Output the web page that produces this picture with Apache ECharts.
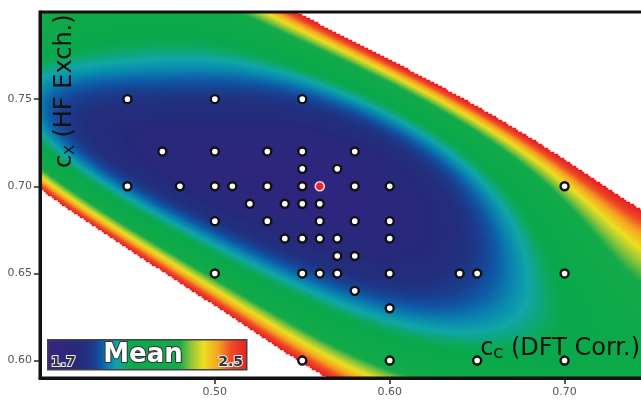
<!DOCTYPE html>
<html><head><meta charset="utf-8">
<script src="https://cdn.jsdelivr.net/npm/echarts@6/dist/echarts.min.js"></script>
<style>html,body{margin:0;padding:0;background:#fff}#c{width:641px;height:400px}</style>
</head><body><div id="c"></div>
<script>
// ---- axis ticks ----
const xTicks = [0.50, 0.60, 0.70];
const yTicks = [0.60, 0.65, 0.70, 0.75];
const xRange = [0.40, 0.75];
const yRange = [0.59, 0.80];

// ---- design points (cC, cX) ----
const pointsX = [0.45,0.45, 0.47, 0.48, 0.50,0.50,0.50,0.50,0.50, 0.51, 0.52, 0.53,0.53,0.53, 0.54,0.54,
  0.55,0.55,0.55,0.55,0.55,0.55,0.55,0.55, 0.56,0.56,0.56,0.56, 0.57,0.57,0.57,0.57,
  0.58,0.58,0.58,0.58,0.58, 0.60,0.60,0.60,0.60,0.60,0.60, 0.64, 0.65,0.65, 0.70,0.70,0.70];
const pointsY = [0.75,0.70, 0.72, 0.70, 0.75,0.72,0.70,0.68,0.65, 0.70, 0.69, 0.72,0.70,0.68, 0.69,0.67,
  0.75,0.72,0.71,0.70,0.69,0.67,0.65,0.60, 0.69,0.68,0.67,0.65, 0.71,0.67,0.66,0.65,
  0.72,0.70,0.68,0.66,0.64, 0.70,0.68,0.67,0.65,0.63,0.60, 0.65, 0.65,0.60, 0.70,0.65,0.60];
const bestX = [0.56];
const bestY = [0.70];

// ---- Mean values at sample locations ----
const sampleX = [
  0.40172,0.40972,0.49150,0.52581,0.56756,0.54297,0.60588,0.66307,0.68994,0.74370,
  0.40172,0.51609,0.59272,0.52981,0.60302,0.66021,0.73970,
  0.40172,0.52981,0.60588,0.52009,0.60016,0.65734,0.69908,
  0.40172,0.56413,0.52467,0.40172,0.56298,0.58529,0.64190,0.67850,0.69166,0.65163,0.59959,
  0.40172,0.40172,0.50580,0.56298,0.58529,0.62017,0.63275,0.67050,0.68308,0.66307,0.63447,0.59959,0.57442,0.52467,0.50065,
  0.40172,0.59959,0.52467,0.56298,0.45033,0.58472,0.63447,
  0.45033,0.54983,0.50065,0.64933,0.47034,0.50065,
  0.50065,0.52009,0.60588,0.57728,0.61731,
  0.55898,0.57156,0.54297];
const sampleY = [
  0.69788,0.69214,0.63477,0.61469,0.59002,0.80000,0.76959,0.73804,0.72083,0.67952,
  0.70820,0.63477,0.59002,0.80000,0.76385,0.73230,0.67378,
  0.71222,0.63477,0.59002,0.80000,0.75927,0.72771,0.70017,
  0.71910,0.63477,0.65083,0.76672,0.76385,0.74951,0.72083,0.66345,0.63477,0.61182,0.60895,
  0.75697,0.72083,0.77820,0.75525,0.74263,0.72656,0.72083,0.66345,0.63763,0.62444,0.62042,0.61469,0.63477,0.65657,0.65026,
  0.73517,0.62616,0.66632,0.74951,0.70075,0.63477,0.62903,
  0.75009,0.75009,0.68066,0.65026,0.72083,0.75009,
  0.72000,0.69214,0.67493,0.72083,0.65198,
  0.69673,0.68927,0.70648];
const sampleMean = [
  2.5,2.5,2.5,2.5,2.5,2.5,2.5,2.5,2.5,2.5,
  2.324,2.324,2.324,2.324,2.324,2.324,2.324,
  2.228,2.228,2.228,2.228,2.228,2.228,2.244,
  2.036,2.036,2.036,2.036,2.036,2.036,2.036,2.036,2.036,2.036,2.036,
  1.98,1.98,1.98,1.98,1.98,1.98,1.98,1.98,1.98,1.98,1.98,1.98,1.98,1.98,2.004,
  1.916,1.91,1.91,1.916,1.9,1.91,1.9,
  1.876,1.876,1.868,1.86,1.836,1.836,
  1.80,1.78,1.79,1.78,1.82,
  1.72,1.71,1.74];
// locations read as plain green (Mean between the green edges)
const greenX = [0.59959,0.64933,0.69908,0.69908,0.74370,0.74370,0.40172,0.43431,0.46291,0.54869,0.54011,
  0.72025,0.67450,0.61731,0.66307,0.72025,0.63447,0.72025];
const greenY = [0.60034,0.60034,0.60034,0.65026,0.59002,0.63477,0.80,0.80,0.80,0.63477,0.64050,
  0.66345,0.69214,0.74377,0.60034,0.59002,0.59002,0.63477];
// locations read as lying outside the coloured field (Mean above 2.5)
const outsideX = [0.40,0.40,0.43431,0.43431,0.46863,0.40,0.50294,
  0.60588,0.65163,0.69737,0.74370,0.74370,0.74370,0.72025,0.67450,0.63447];
const outsideY = [0.63477,0.59,0.63477,0.59,0.59,0.66345,0.59,
  0.80,0.80,0.80,0.80,0.76099,0.71509,0.74951,0.77246,0.78394];

// ---- colour scale ----
const meanMin = 1.7, meanMax = 2.5;
const stopPos = [0.00,0.06,0.14,0.20,0.24,0.27,0.31,0.35,0.40,0.43,0.66,0.72,0.78,0.85,0.92,1.00];
const stopCol = ['#3b2482','#30267f','#272a7b','#22307f','#1a4090','#1058a5','#0a85b0','#10a6a8','#0ea85e','#0aa84c','#14aa4a','#90c63a','#ecdf20','#f5a623','#ef4a25','#e41f26'];

function hex(c){return [parseInt(c.substr(1,2),16),parseInt(c.substr(3,2),16),parseInt(c.substr(5,2),16)];}
function colAt(f){
  for(let k=0;k<stopPos.length-1;k++){
    if(f<=stopPos[k+1]){const t=(f-stopPos[k])/(stopPos[k+1]-stopPos[k]);const a=hex(stopCol[k]),b=hex(stopCol[k+1]);
      return 'rgb('+a.map((v,i)=>Math.round(v+(b[i]-v)*t)).join(',')+')';}
  }
  return stopCol[stopCol.length-1];
}
const rampColors=[];for(let k=0;k<=100;k++)rampColors.push(colAt(k/100));

// ---- least-squares polynomial surface fitted to the readings ----
const DEG=5;
function basis(x,y){const u=(x-0.56)/0.1,v=(y-0.70)/0.05;const b=[];for(let d=0;d<=DEG;d++)for(let i=0;i<=d;i++)b.push(Math.pow(u,d-i)*Math.pow(v,i));return b;}
function solveFit(pts){
  const n=basis(0.5,0.7).length;const A=[],r=[];
  for(let i=0;i<n;i++){A.push(new Array(n).fill(0));r.push(0);}
  for(const p of pts){const b=basis(p[0],p[1]);
    for(let i=0;i<n;i++){r[i]+=p[3]*b[i]*p[2];for(let j=0;j<n;j++)A[i][j]+=p[3]*b[i]*b[j];}}
  for(let i=0;i<n;i++)A[i][i]+=1e-4;
  for(let i=0;i<n;i++){let q=i;for(let k=i+1;k<n;k++)if(Math.abs(A[k][i])>Math.abs(A[q][i]))q=k;
    [A[i],A[q]]=[A[q],A[i]];[r[i],r[q]]=[r[q],r[i]];
    for(let k=i+1;k<n;k++){const f=A[k][i]/A[i][i];for(let j=i;j<n;j++)A[k][j]-=f*A[i][j];r[k]-=f*r[i];}}
  const c=new Array(n).fill(0);
  for(let i=n-1;i>=0;i--){let s=r[i];for(let j=i+1;j<n;j++)s-=A[i][j]*c[j];c[i]=s/A[i][i];}
  return c;
}
let coef;
function meanAt(x,y){const b=basis(x,y);let s=0;for(let i=0;i<b.length;i++)s+=b[i]*coef[i];return s;}
(function(){
  const pts=sampleX.map((x,i)=>[x,sampleY[i],sampleMean[i],1]);
  const extra=new Map();
  for(let it=0;it<12;it++){
    coef=solveFit(pts.concat([...extra.values()]));
    let changed=false;
    outsideX.forEach((x,k)=>{const key='o'+k;if(!extra.has(key)&&meanAt(x,outsideY[k])<2.6){extra.set(key,[x,outsideY[k],2.7,1]);changed=true;}});
    greenX.forEach((x,k)=>{const key='g'+k;const m=meanAt(x,greenY[k]);
      if(!extra.has(key)&&m<2.05){extra.set(key,[x,greenY[k],2.09,1]);changed=true;}
      else if(!extra.has(key)&&m>2.21){extra.set(key,[x,greenY[k],2.17,1]);changed=true;}});
    if(!changed)break;
  }
})();

const NX=306, NY=183;
const cellData=[];const xCats=[],yCats=[];
for(let i=0;i<NX;i++)xCats.push(i);
for(let j=0;j<NY;j++)yCats.push(j);
for(let i=0;i<NX;i++){const x=xRange[0]+(i+0.5)*(xRange[1]-xRange[0])/NX;
  for(let j=0;j<NY;j++){const y=yRange[0]+(j+0.5)*(yRange[1]-yRange[0])/NY;
    const m=meanAt(x,y);if(m<=meanMax)cellData.push([i,j,Math.max(meanMin,m)]);}}

const GRID={left:40,top:12,width:612,height:366,outerBoundsMode:'none',containLabel:false};
const FONT='DejaVu Sans';
const chart=echarts.init(document.getElementById('c'),null,{renderer:'canvas'});
chart.setOption({
  animation:false,
  backgroundColor:'#fff',
  grid:[Object.assign({show:true,borderColor:'#111',borderWidth:3,backgroundColor:'transparent',z:20},GRID),
        Object.assign({show:false},GRID)],
  xAxis:[
    {type:'value',gridIndex:0,min:xRange[0],max:xRange[1],splitLine:{show:false},z:20,
     axisLine:{show:true,lineStyle:{color:'#111',width:3}},
     axisTick:{show:true,length:6,customValues:xTicks,lineStyle:{color:'#222',width:1.5}},
     axisLabel:{customValues:xTicks,formatter:v=>v.toFixed(2),color:'#555',fontSize:11,fontFamily:FONT,margin:9}},
    {type:'category',gridIndex:1,data:xCats,show:false}
  ],
  yAxis:[
    {type:'value',gridIndex:0,min:yRange[0],max:yRange[1],splitLine:{show:false},z:20,
     axisLine:{show:true,lineStyle:{color:'#111',width:3}},
     axisTick:{show:true,length:6,customValues:yTicks,lineStyle:{color:'#222',width:1.5}},
     axisLabel:{customValues:yTicks,formatter:v=>v.toFixed(2),color:'#555',fontSize:11,fontFamily:FONT,margin:8}},
    {type:'category',gridIndex:1,data:yCats,show:false}
  ],
  visualMap:{show:false,type:'continuous',min:meanMin,max:meanMax,seriesIndex:0,dimension:2,
    inRange:{color:rampColors},outOfRange:{color:'rgba(255,255,255,0)'}},
  series:[
    {type:'heatmap',xAxisIndex:1,yAxisIndex:1,data:cellData,progressive:0,silent:true,emphasis:{disabled:true},z:1},
    {type:'scatter',xAxisIndex:0,yAxisIndex:0,data:pointsX.map((x,i)=>[x,pointsY[i]]),symbolSize:8,silent:true,z:5,
     itemStyle:{color:'#fff',borderColor:'#111',borderWidth:2.4,opacity:1}},
    {type:'scatter',xAxisIndex:0,yAxisIndex:0,data:bestX.map((x,i)=>[x,bestY[i]]),symbolSize:9,silent:true,z:6,
     itemStyle:{color:'#e8252a',borderColor:'#f3d6d6',borderWidth:1.6,opacity:1}}
  ],
  graphic:[
    {type:'rect',left:47,top:339,z:30,shape:{width:199,height:30},
     style:{fill:new echarts.graphic.LinearGradient(0,0,1,0,stopPos.map((p,k)=>({offset:p,color:stopCol[k]}))),stroke:'#444',lineWidth:1.5}},
    {type:'text',x:143,y:355,z:31,style:{text:'Mean',font:'bold 26px "DejaVu Sans"',fill:'#fff',stroke:'#333',lineWidth:2,align:'center',verticalAlign:'middle'}},
    {type:'text',x:51,y:362,z:31,style:{text:'1.7',font:'bold 14px "DejaVu Sans"',fill:'#333',stroke:'#eee',lineWidth:2,align:'left',verticalAlign:'middle'}},
    {type:'text',x:243,y:362,z:31,style:{text:'2.5',font:'bold 14px "DejaVu Sans"',fill:'#333',stroke:'#eee',lineWidth:2,align:'right',verticalAlign:'middle'}},
    {type:'text',x:640,y:361,z:31,style:{text:'{a|c}{s|C}{a| (DFT Corr.)}',align:'right',verticalAlign:'bottom',
      rich:{a:{font:'24px "DejaVu Sans"',fill:'#111',verticalAlign:'bottom'},s:{font:'14px "DejaVu Sans"',fill:'#111',verticalAlign:'bottom'}}}},
    {type:'text',x:77,y:168,rotation:Math.PI/2,z:31,style:{text:'{a|c}{s|X}{a| (HF Exch.)}',align:'left',verticalAlign:'bottom',
      rich:{a:{font:'24px "DejaVu Sans"',fill:'#111',verticalAlign:'bottom'},s:{font:'14px "DejaVu Sans"',fill:'#111',verticalAlign:'bottom'}}}}
  ]
});
</script></body></html>
